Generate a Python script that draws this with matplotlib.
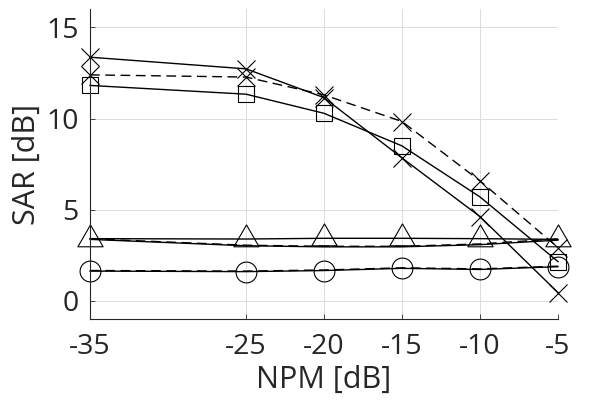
import matplotlib
matplotlib.use("Agg")
import matplotlib.pyplot as plt
from matplotlib.path import Path

npm = [-35, -25, -20, -15, -10, -5]
xtick_labels = ["-35", "-25", "-20", "-15", "-10", "-5"]
yticks = [0, 5, 10, 15]

x_solid = [13.37, 12.73, 11.15, 7.84, 4.62, 0.45]
x_dashed = [12.40, 12.28, 11.30, 9.84, 6.58, 2.92]
sq_solid = [11.82, 11.34, 10.29, 8.50, 5.70, 2.15]
tri_solid = [3.41, 3.39, 3.43, 3.43, 3.41, 3.37]
tri_lower = [3.37, 3.02, 2.96, 2.96, 3.08, 3.33]
tri_dashed = [3.40, 3.05, 2.99, 2.99, 3.12, 3.40]
circ_solid = [1.63, 1.60, 1.66, 1.78, 1.72, 1.87]
circ_dashed = [1.66, 1.63, 1.69, 1.81, 1.75, 1.90]

plt.rcParams['font.family'] = ['Open Sans', 'DejaVu Sans']
tc = '#262626'

fig = plt.figure(figsize=(6, 4), dpi=100)
ax = fig.add_axes([0.15, 0.2025, 0.78, 0.7743])

# triangle marker with centroid at data point (MATLAB-like)
tri = Path([(0, 2.0), (-1.73, -1.0), (1.73, -1.0), (0, 2.0)],
           [Path.MOVETO, Path.LINETO, Path.LINETO, Path.CLOSEPOLY])

lw = 1.0
common = dict(color='k', lw=lw, mfc='none', mec='k', mew=0.8, clip_on=False)

ax.plot(npm, x_solid, '-', marker='x', ms=13, **common)
ax.plot(npm, x_dashed, '--', marker='x', ms=13, dashes=(7, 4), **common)
ax.plot(npm, sq_solid, '-', marker='s', ms=11.5, **common)
ax.plot(npm, tri_solid, '-', marker=tri, ms=21, **common)
ax.plot(npm, tri_lower, '-', **common)
ax.plot(npm, tri_dashed, '--', dashes=(7, 4), **common)
ax.plot(npm, circ_solid, '-', marker='o', ms=15, **common)
ax.plot(npm, circ_dashed, '--', dashes=(7, 4), **common)

ax.set_xlim(-35, -5)
ax.set_ylim(-1, 16)
ax.set_xticks(npm)
ax.set_xticklabels(xtick_labels)
ax.set_yticks(yticks)
ax.set_yticklabels([str(v) for v in yticks])

ax.grid(True, color='#dcdcdc', lw=0.7)
ax.set_axisbelow(True)
for s in ['top', 'right']:
    ax.spines[s].set_visible(False)
for s in ['left', 'bottom']:
    ax.spines[s].set_color(tc)
    ax.spines[s].set_linewidth(0.8)

ax.tick_params(direction='in', length=3.5, width=0.6, colors=tc,
               labelsize=20.5, pad=8)
ax.tick_params(axis='x', pad=10)
ax.set_xlabel('NPM [dB]', fontsize=22, color=tc, labelpad=3)
ax.set_ylabel('SAR [dB]', fontsize=22, color=tc, labelpad=3)

fig.savefig('out.png', dpi=100)
